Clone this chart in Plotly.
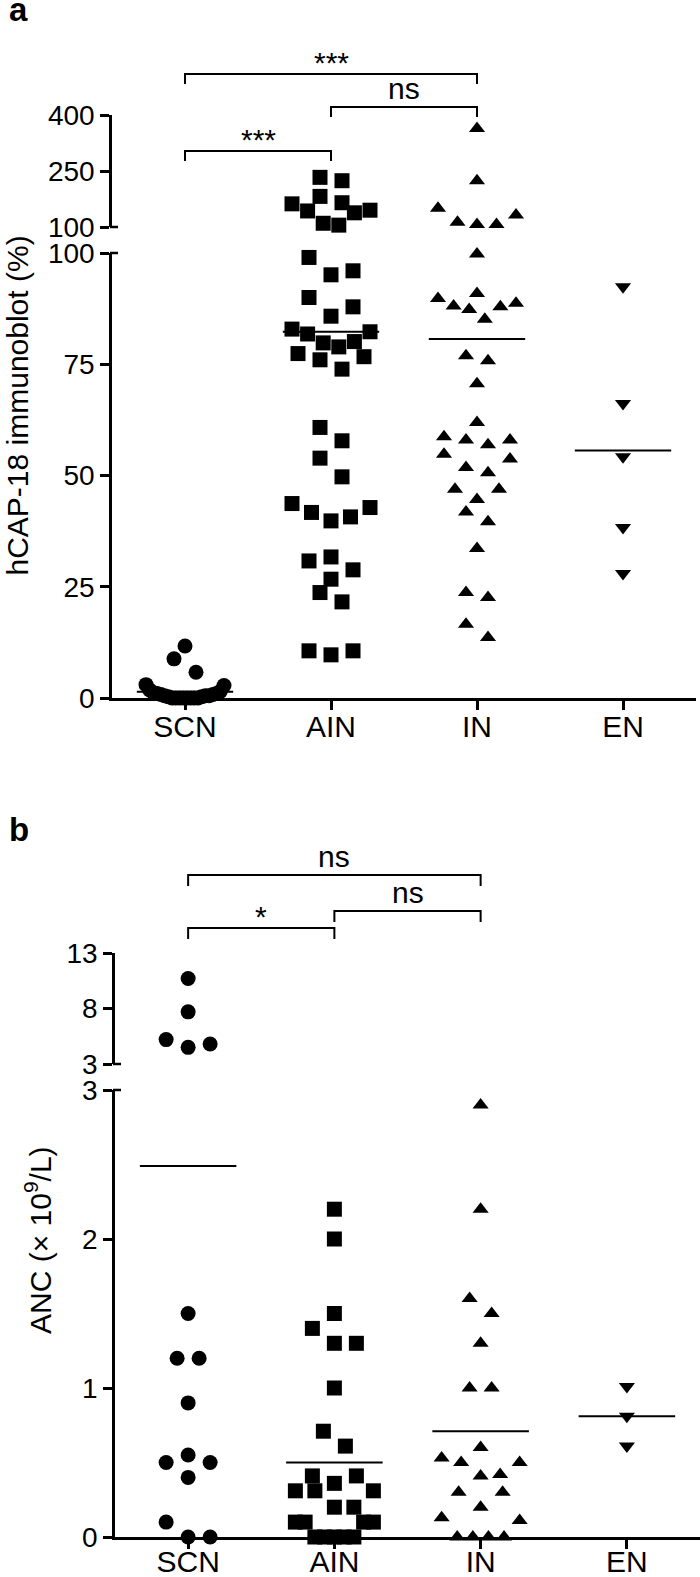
import numpy as np
import plotly.graph_objects as go

# ---------------- data ----------------
categories = ["SCN", "AIN", "IN", "EN"]

# Panel a: hCAP-18 immunoblot (%)
a_scn = [0, 0, 0, 0, 0, 0, 0, 0, 0.3, 0.3, 0.5, 0.5, 0.5, 0.8, 0.8, 1.0, 1.0, 1.2, 1.5, 1.8,
         2.8, 3.0, 5.8, 8.8, 11.7]
a_ain = [9.7, 10.6, 10.6, 21.6, 23.7, 26.7, 28.8, 30.8, 31.7, 39.8, 40.7, 41.7, 42.8, 43.7,
         49.7, 53.9, 57.8, 60.8, 73.9, 76.0, 76.7, 77.4, 78.9, 79.8, 80.1, 81.8, 82.3, 82.9,
         85.8, 87.9, 90.0, 95.1, 96.0, 99.0,
         105, 110, 138, 143, 145, 162, 165, 182, 224, 233]
a_in = [13.6, 16.6, 22.6, 23.7, 33.6, 39.6, 41.8, 44.6, 46.9, 46.9, 50.6, 51.8, 53.7, 54.8,
        56.9, 58.0, 58.0, 58.7, 61.9, 70.6, 75.8, 76.9, 85.1, 87.3, 87.9, 88.1, 88.7, 89.8,
        90.9, 99.8, 107, 107, 113, 132, 150, 224, 364]
a_en = [28.0, 38.3, 54.2, 66.2, 92.4]
a_means = [1.4, 82.3, 80.7, 55.6]
a_lo_ticks = [0, 25, 50, 75, 100]
a_hi_ticks = [100, 250, 400]
a_brackets = [(0, 2, "***"), (1, 2, "ns"), (0, 1, "***")]

# Panel b: ANC (x 10^9/L)
b_scn = [0, 0, 0.1, 0.4, 0.5, 0.5, 0.55, 0.9, 1.2, 1.2, 1.5, 4.5, 4.8, 5.2, 7.7, 10.7]
b_ain = [0, 0, 0, 0, 0, 0.1, 0.1, 0.1, 0.1, 0.2, 0.2, 0.31, 0.31, 0.31, 0.36, 0.41, 0.41,
         0.61, 0.71, 1.0, 1.3, 1.3, 1.4, 1.5, 2.0, 2.2]
b_in = [0, 0, 0, 0, 0.11, 0.13, 0.2, 0.3, 0.3, 0.41, 0.42, 0.5, 0.5, 0.53, 0.6, 1.0, 1.0,
        1.3, 1.5, 1.6, 2.2, 2.9]
b_en = [0.61, 0.81, 1.01]
b_means = [2.49, 0.5, 0.71, 0.81]
b_lo_ticks = [0, 1, 2, 3]
b_hi_ticks = [3, 8, 13]
b_brackets = [(0, 2, "ns"), (1, 2, "ns"), (0, 1, "*")]

# ---------------- layout geometry ----------------
W, H = 700, 1577
FONT = "Liberation Sans, Arial, Helvetica, sans-serif"


def fy(p):
    return 1 - p / H


def fx(p):
    return p / W


PA = dict(x0=112, x1=696, lo=(698, 253), lo_rng=(0, 100), hi=(227, 115), hi_rng=(100, 400))
PB = dict(x0=115, x1=700, lo=(1537, 1090), lo_rng=(0, 3), hi=(1064, 953), hi_rng=(3, 13))


def to_px(v, g):
    (b0, t0), (v0, v1) = g['lo'], g['lo_rng']
    if v <= v1:
        return b0 - (v - v0) * (b0 - t0) / (v1 - v0)
    (b1, t1), (w0, w1) = g['hi'], g['hi_rng']
    return b1 - (v - w0) * (b1 - t1) / (w1 - w0)


def swarm(values, g, bin_px=22, d_px=22, half_px=39):
    v = np.asarray(values, float)
    p = np.array([to_px(x, g) for x in v])
    order = np.argsort(-p, kind='stable')
    off = np.zeros(len(v))
    unit = (g['x1'] - g['x0']) / 4
    i = 0
    while i < len(order):
        j = i
        while j < len(order) and p[order[i]] - p[order[j]] < bin_px:
            j += 1
        grp = order[i:j]
        n = len(grp)
        d = d_px if n <= 3 else min(d_px, 2 * half_px / (n - 1))
        if n % 2:
            seq = [0.0] + [s * k for k in range(1, n) for s in (1, -1)]
        else:
            seq = [s * (k + 0.5) for k in range(n) for s in (1, -1)]
        for idx, s in zip(grp, seq[:n]):
            off[idx] = s * d / unit
        i = j
    return off


SYMBOLS = ["circle", "square", "triangle-up", "triangle-down"]
SIZES = [15, 15, 14, 14]

fig = go.Figure()


def add_panel(groups, means, g, xa, ylo, yhi, brk):
    for i, vals in enumerate(groups):
        off = swarm(vals, g)
        vals = np.asarray(vals, float)
        for mask, ya in ((vals <= brk, ylo), (vals > brk, yhi)):
            if mask.any():
                fig.add_trace(go.Scatter(
                    x=i + off[mask], y=vals[mask], mode='markers', xaxis=xa, yaxis=ya,
                    marker=dict(symbol=SYMBOLS[i], size=SIZES[i], color='black', line=dict(width=0)),
                    cliponaxis=False, showlegend=False, hoverinfo='skip'))
        fig.add_trace(go.Scatter(
            x=[i - 0.33, i + 0.33], y=[means[i], means[i]], mode='lines', xaxis=xa, yaxis=ylo,
            line=dict(color='black', width=2), cliponaxis=False, showlegend=False, hoverinfo='skip'))


add_panel([a_scn, a_ain, a_in, a_en], a_means, PA, 'x', 'y', 'y2', 100)
add_panel([b_scn, b_ain, b_in, b_en], b_means, PB, 'x2', 'y3', 'y4', 3)

common = dict(showline=True, linecolor='black', linewidth=2.5, ticks='outside', ticklen=9,
              tickwidth=2.5, tickcolor='black', showgrid=False, zeroline=False)
ystyle = dict(common, tickfont=dict(family=FONT, size=28, color='black'))
xstyle = dict(common, tickfont=dict(family=FONT, size=30, color='black'),
              tickvals=list(range(len(categories))), ticktext=categories, range=[-0.5, 3.5])

fig.update_layout(
    width=W, height=H, margin=dict(l=0, r=0, t=0, b=0, autoexpand=False),
    paper_bgcolor='white', plot_bgcolor='white',
    xaxis=dict(domain=[fx(PA['x0']), fx(PA['x1'])], anchor='y', ticklabelstandoff=-9, **xstyle),
    yaxis=dict(domain=[fy(PA['lo'][0]), fy(PA['lo'][1])], range=list(PA['lo_rng']), anchor='x',
               tickvals=a_lo_ticks, **ystyle),
    yaxis2=dict(domain=[fy(PA['hi'][0]), fy(PA['hi'][1])], range=list(PA['hi_rng']), anchor='x',
                tickvals=a_hi_ticks, **ystyle),
    xaxis2=dict(domain=[fx(PB['x0']), fx(PB['x1'])], anchor='y3', ticklabelstandoff=-13, **xstyle),
    yaxis3=dict(domain=[fy(PB['lo'][0]), fy(PB['lo'][1])], range=list(PB['lo_rng']), anchor='x2',
                tickvals=b_lo_ticks, **ystyle),
    yaxis4=dict(domain=[fy(PB['hi'][0]), fy(PB['hi'][1])], range=list(PB['hi_rng']), anchor='x2',
                tickvals=b_hi_ticks, **ystyle),
)


def add_brackets(brackets, levels, xref, drop=10):
    for (c0, c1, label), lvl in zip(brackets, levels):
        y, yd = fy(lvl), fy(lvl + drop)
        fig.add_shape(type='path', path=f'M {c0},{yd} L {c0},{y} L {c1},{y} L {c1},{yd}',
                      xref=xref, yref='paper', line=dict(color='black', width=2))
        fig.add_annotation(x=(c0 + c1) / 2, y=y, xref=xref, yref='paper', text=label,
                           showarrow=False, yanchor='bottom', xanchor='center',
                           yshift=-7 if '*' in label else 0,
                           font=dict(family=FONT, size=30, color='black'))


add_brackets(a_brackets, [74, 107, 151], 'x', drop=10)
add_brackets(b_brackets, [875, 911, 928], 'x2', drop=11)

# axis-break caps
for g in (PA, PB):
    for yp in (g['hi'][0], g['lo'][1]):
        fig.add_shape(type='line', xref='paper', yref='paper', x0=fx(g['x0'] - 2), x1=fx(g['x0'] + 6),
                      y0=fy(yp), y1=fy(yp), line=dict(color='black', width=2.5))

# axis titles
fig.add_annotation(text="hCAP-18 immunoblot (%)", x=fx(35), y=fy(406), xref='paper', yref='paper',
                   xanchor='right', yanchor='middle', textangle=-90, showarrow=False,
                   font=dict(family=FONT, size=30, color='black'))
fig.add_annotation(text="ANC (× 10<sup>9</sup>/L)", x=fx(59), y=fy(1240), xref='paper', yref='paper',
                   xanchor='right', yanchor='middle', textangle=-90, showarrow=False,
                   font=dict(family=FONT, size=30, color='black'))

# panel letters
for letter, ypx in (("a", 30), ("b", 850)):
    fig.add_annotation(text=f"<b>{letter}</b>", x=fx(7), y=fy(ypx), xref='paper', yref='paper',
                       xanchor='left', yanchor='bottom', showarrow=False,
                       font=dict(family=FONT, size=33, color='black'))

fig.write_html("out.html", config={'displayModeBar': False},
               post_script="document.body.style.margin='0';document.body.style.padding='0';"
                           "document.body.style.overflow='hidden';")
